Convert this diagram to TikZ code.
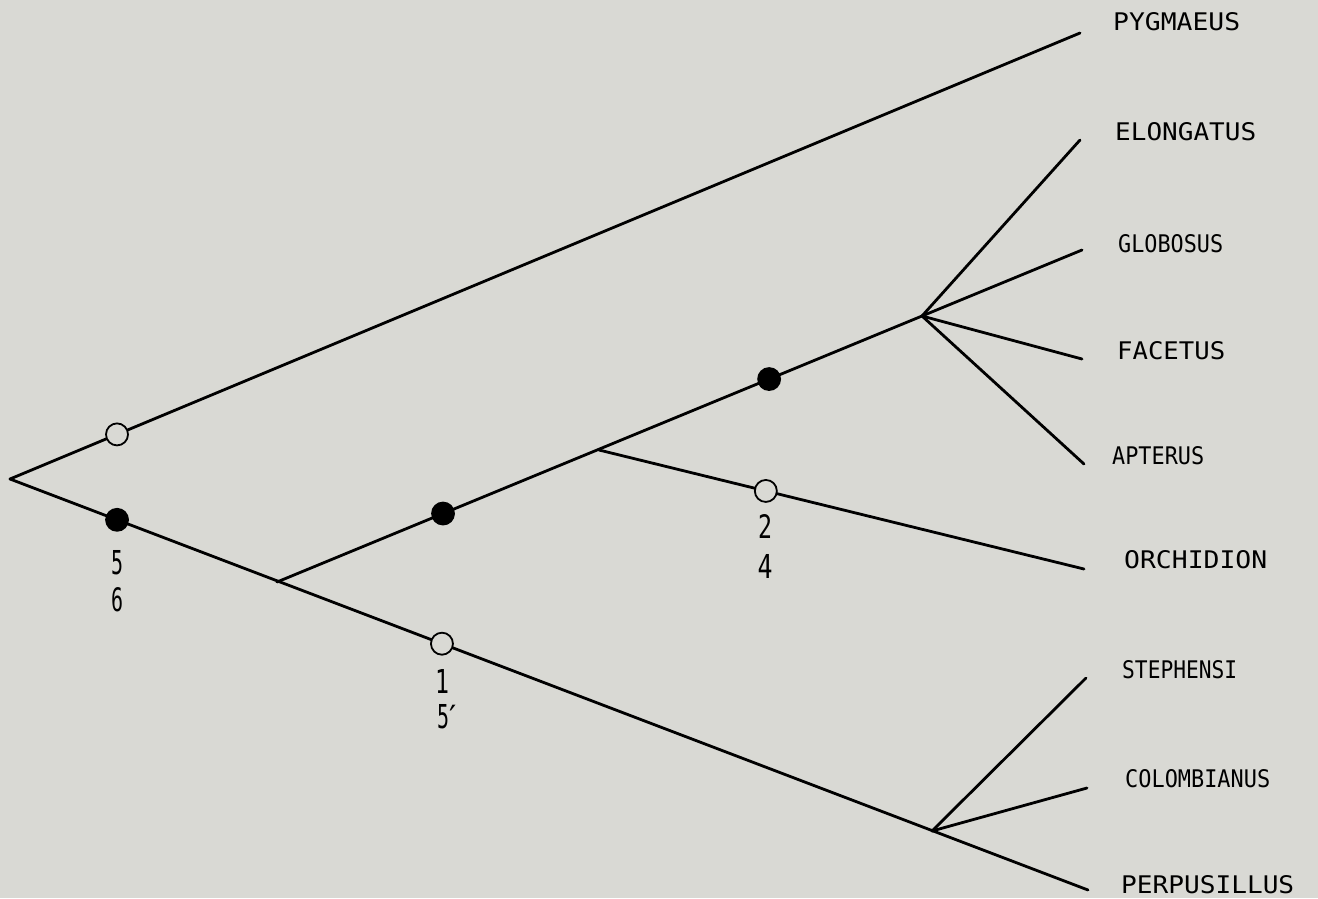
\documentclass[tikz,border=0pt]{standalone}
\usepackage{fontspec}
\usepackage{graphicx}
\newfontfamily\labfont{DejaVu Sans Mono}
\newfontfamily\primefont{DejaVu Sans}
\definecolor{bg}{HTML}{D9D9D4}
\newcommand{\taxon}[2]{\resizebox{#1pt}{18pt}{\labfont #2}}
\newcommand{\dig}[2][13]{\resizebox{#1pt}{24pt}{\labfont #2}}
\begin{document}
\begin{tikzpicture}[x=1pt,y=-1pt,
  branch/.style={line width=2.8pt,line cap=round,line join=round},
  opendot/.style={circle,draw,line width=1.8pt,fill=bg,minimum size=22pt,inner sep=0pt},
  fulldot/.style={circle,draw,line width=1.8pt,fill=black,minimum size=22pt,inner sep=0pt},
  taxlab/.style={anchor=west,inner sep=0pt},
  numlab/.style={inner sep=0pt}]
\fill[bg] (0,0) rectangle (1318,898);
\useasboundingbox (0,0) rectangle (1318,898);
% junctions and tips
\coordinate (root) at (10,479);
\coordinate (j1) at (277,582);
\coordinate (j2) at (599,450);
\coordinate (jF) at (922,316);
\coordinate (jS) at (932,831);
\coordinate (tPyg) at (1080,33);
\coordinate (tElo) at (1080,140);
\coordinate (tGlo) at (1082,250);
\coordinate (tFac) at (1082,359);
\coordinate (tApt) at (1084,464);
\coordinate (tOrc) at (1084,569);
\coordinate (tSte) at (1086,678);
\coordinate (tCol) at (1087,788);
\coordinate (tPer) at (1088,890);
% branches
\draw[branch] (root) -- (tPyg);
\draw[branch] (root) -- (tPer);
\draw[branch] (j1) -- (jF);
\draw[branch] (j2) -- (tOrc);
\draw[branch] (jF) -- (tElo);
\draw[branch] (jF) -- (tGlo);
\draw[branch] (jF) -- (tFac);
\draw[branch] (jF) -- (tApt);
\draw[branch] (jS) -- (tSte);
\draw[branch] (jS) -- (tCol);
% character-state marks
\path (root) -- (tPyg) node[opendot,pos=0.1] (o1) {};
\path (root) -- (tPer) node[fulldot,pos=0.0993] (f1) {};
\path (root) -- (tPer) node[opendot,pos=0.4007] (o2) {};
\path (j1) -- (jF) node[fulldot,pos=0.2574] (f2) {};
\path (j1) -- (jF) node[fulldot,pos=0.763] (f3) {};
\path (j2) -- (tOrc) node[opendot,pos=0.344] (o3) {};
% numbers
\node[numlab] (n5) at (117,563) {\dig[12]{5}};
\node[numlab] (n6) at (117,600) {\dig[12]{6}};
\node[numlab] (n1) at (442,681) {\dig[14]{1}};
\node[numlab] (n5p) at (443,717) {\dig[12]{5}\rlap{\fontsize{32}{32}\primefont ′}};
\node[numlab] (n2) at (765,526) {\dig[14]{2}};
\node[numlab] (n4) at (765,566) {\dig[15]{4}};
% taxa
\node[taxlab] (lPyg) at (1113,22) {\taxon{127}{PYGMAEUS}};
\node[taxlab] (lElo) at (1115,132) {\taxon{141}{ELONGATUS}};
\node[taxlab] (lGlo) at (1118,244) {\taxon{105}{GLOBOSUS}};
\node[taxlab] (lFac) at (1117,351) {\taxon{108}{FACETUS}};
\node[taxlab] (lApt) at (1112,456) {\taxon{92}{APTERUS}};
\node[taxlab] (lOrc) at (1124,560) {\taxon{143}{ORCHIDION}};
\node[taxlab] (lSte) at (1122,670) {\taxon{115}{STEPHENSI}};
\node[taxlab] (lCol) at (1125,779) {\taxon{145}{COLOMBIANUS}};
\node[taxlab] (lPer) at (1121,885) {\taxon{173}{PERPUSILLUS}};
\end{tikzpicture}
\end{document}
